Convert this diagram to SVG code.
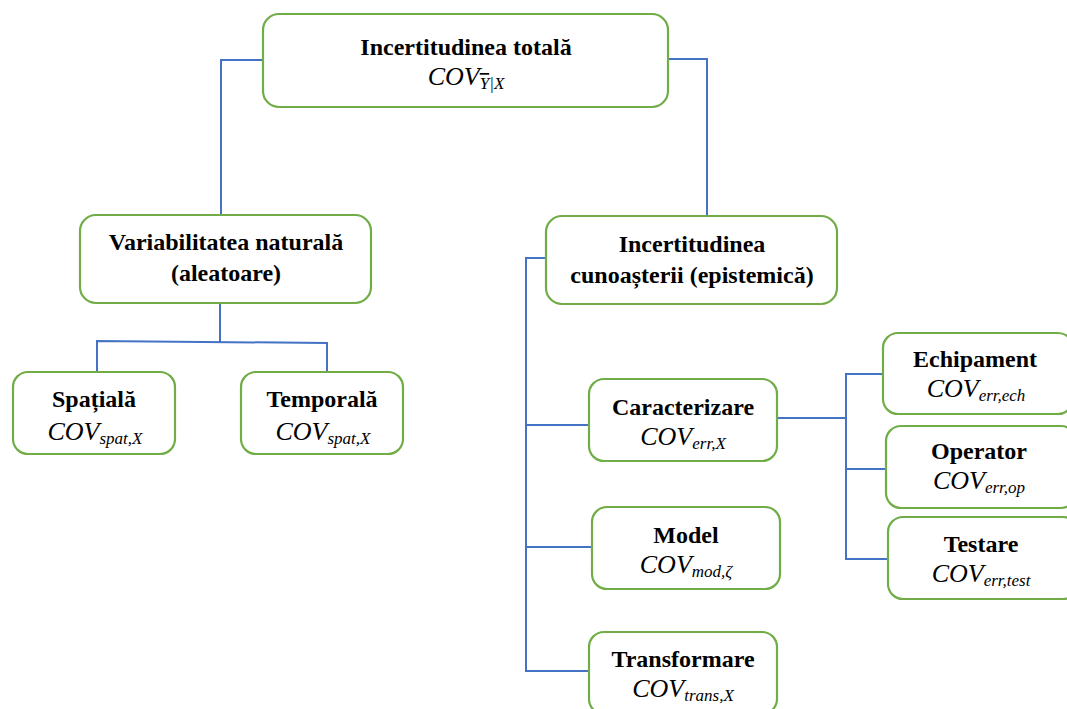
<svg xmlns="http://www.w3.org/2000/svg" width="1067" height="709" viewBox="0 0 1067 709">
<style>
.box{fill:#fff;stroke:#70AD47;stroke-width:2.2}
.ln{fill:none;stroke:#4472C4;stroke-width:2}
.t{font-family:"Liberation Serif","Times New Roman",serif;font-weight:bold;font-size:24px;fill:#000;text-anchor:middle}
.c{font-family:"Liberation Serif","Times New Roman",serif;font-style:italic;font-size:26px;fill:#000;text-anchor:middle}
.s{font-size:17px}
</style>
<rect width="1067" height="709" fill="#fff"/>
<g id="connectors">
<polyline class="ln" points="263,60 221,60 221,216"/>
<polyline class="ln" points="668,59 707,59 707,216"/>
<polyline class="ln" points="220,303 220,342"/>
<polyline class="ln" points="97,372 97,341 327,343 327,372"/>
<polyline class="ln" points="546,258 526,258 526,672"/>
<line class="ln" x1="526" y1="425" x2="589" y2="425"/>
<line class="ln" x1="526" y1="547" x2="592" y2="547"/>
<line class="ln" x1="526" y1="671" x2="589" y2="671"/>
<line class="ln" x1="777" y1="418" x2="846" y2="418"/>
<polyline class="ln" points="883,374 846,374 846,559 888,559"/>
<line class="ln" x1="846" y1="469" x2="886" y2="469"/>
</g>
<g id="n-total">
<rect class="box" x="263" y="14" width="405" height="93" rx="16"/>
<text class="t" x="466" y="55">Incertitudinea totală</text>
<text class="c" x="466" y="85">COV<tspan class="s" dy="4" text-decoration="overline">Y</tspan><tspan class="s">|X</tspan></text>
</g>
<g id="n-natural">
<rect class="box" x="80" y="215" width="291" height="88" rx="16"/>
<text class="t" x="226" y="250">Variabilitatea naturală</text>
<text class="t" x="226" y="281">(aleatoare)</text>
</g>
<g id="n-spatiala">
<rect class="box" x="13" y="372" width="162" height="82" rx="15"/>
<text class="t" x="94" y="407">Spațială</text>
<text class="c" x="95" y="440">COV<tspan class="s" dy="4">spat,X</tspan></text>
</g>
<g id="n-temporala">
<rect class="box" x="241" y="372" width="162" height="82" rx="15"/>
<text class="t" x="322" y="407">Temporală</text>
<text class="c" x="323" y="440">COV<tspan class="s" dy="4">spat,X</tspan></text>
</g>
<g id="n-epistemic">
<rect class="box" x="546" y="216" width="291" height="88" rx="16"/>
<text class="t" x="692" y="252">Incertitudinea</text>
<text class="t" x="692" y="283">cunoașterii (epistemică)</text>
</g>
<g id="n-caracterizare">
<rect class="box" x="589" y="379" width="188" height="82" rx="15"/>
<text class="t" x="683" y="415">Caracterizare</text>
<text class="c" x="683" y="445">COV<tspan class="s" dy="4">err,X</tspan></text>
</g>
<g id="n-model">
<rect class="box" x="592" y="507" width="188" height="82" rx="15"/>
<text class="t" x="686" y="543">Model</text>
<text class="c" x="686" y="573">COV<tspan class="s" dy="4">mod,ζ</tspan></text>
</g>
<g id="n-transformare">
<rect class="box" x="589" y="632" width="188" height="82" rx="15"/>
<text class="t" x="683" y="667">Transformare</text>
<text class="c" x="683" y="697">COV<tspan class="s" dy="4">trans,X</tspan></text>
</g>
<g id="n-echipament">
<rect class="box" x="883" y="333" width="190" height="81" rx="15"/>
<text class="t" x="975" y="367">Echipament</text>
<text class="c" x="976" y="397">COV<tspan class="s" dy="4">err,ech</tspan></text>
</g>
<g id="n-operator">
<rect class="box" x="886" y="426" width="190" height="82" rx="15"/>
<text class="t" x="979" y="459">Operator</text>
<text class="c" x="979" y="489">COV<tspan class="s" dy="4">err,op</tspan></text>
</g>
<g id="n-testare">
<rect class="box" x="888" y="517" width="190" height="82" rx="15"/>
<text class="t" x="981" y="552">Testare</text>
<text class="c" x="981" y="582">COV<tspan class="s" dy="4">err,test</tspan></text>
</g>
</svg>
